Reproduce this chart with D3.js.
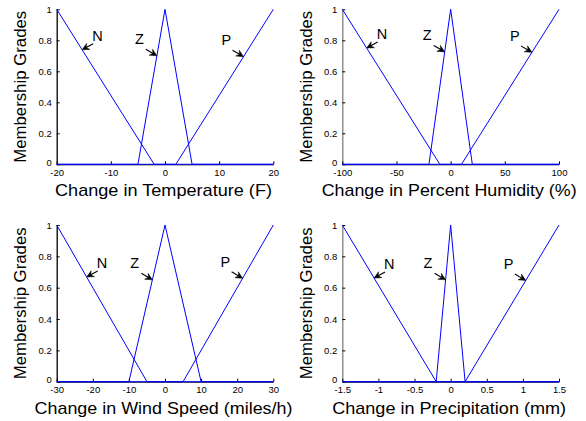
<!DOCTYPE html>
<html><head><meta charset="utf-8">
<script src="https://cdn.jsdelivr.net/npm/d3@7"></script>
<style>
body{margin:0;background:#fff}
svg{display:block}
text{font-family:"Liberation Sans",Arial,Helvetica,sans-serif}
</style>
</head><body><svg width="586" height="421"></svg>
<script>
// ---------- data ----------
const yTicks = [0, 0.2, 0.4, 0.6, 0.8, 1];
const mfNames = ["N", "Z", "P"];

const tempLabel = "Change in Temperature (F)";
const tempDomain = [-20, 20];
const tempTicks = [-20, -10, 0, 10, 20];
const tempN = [[-20, 1], [-2, 0], [20, 0]];
const tempZ = [[-20, 0], [-5, 0], [0, 1], [5, 0], [20, 0]];
const tempP = [[-20, 0], [2, 0], [20, 1]];
const tempTips = [-15.3, -1.5, 14.5];

const humLabel = "Change in Percent Humidity (%)";
const humDomain = [-100, 100];
const humTicks = [-100, -50, 0, 50, 100];
const humN = [[-100, 1], [-10, 0], [100, 0]];
const humZ = [[-100, 0], [-20, 0], [0, 1], [20, 0], [100, 0]];
const humP = [[-100, 0], [10, 0], [100, 1]];
const humTips = [-77.5, -5.5, 75];

const windLabel = "Change in Wind Speed (miles/h)";
const windDomain = [-30, 30];
const windTicks = [-30, -20, -10, 0, 10, 20, 30];
const windN = [[-30, 1], [-5, 0], [30, 0]];
const windZ = [[-30, 0], [-10, 0], [0, 1], [10, 0], [30, 0]];
const windP = [[-30, 0], [5, 0], [30, 1]];
const windTips = [-21.7, -3.5, 21.5];

const precLabel = "Change in Precipitation (mm)";
const precDomain = [-1.5, 1.5];
const precTicks = [-1.5, -1, -0.5, 0, 0.5, 1, 1.5];
const precN = [[-1.5, 1], [-0.2, 0], [1.5, 0]];
const precZ = [[-1.5, 0], [-0.2, 0], [0, 1], [0.2, 0], [1.5, 0]];
const precP = [[-1.5, 0], [0.2, 0], [1.5, 1]];
const precTips = [-1.06, -0.07, 1.04];

const yLabel = "Membership Grades";

// ---------- layout (positions/styles only) ----------
const layout = [
  {left: 56.7, right: 273.3, top: 9.3, bottom: 164.3, axisColor: "#000", labelW: 217},
  {left: 342.3, right: 559, top: 9.3, bottom: 164.3, axisColor: "#808080", labelW: 255},
  {left: 56.7, right: 273.3, top: 225, bottom: 381.7, axisColor: "#000", labelW: 258},
  {left: 342.3, right: 559, top: 225, bottom: 381.7, axisColor: "#808080", labelW: 234}
];
const panels = [
  {label: tempLabel, domain: tempDomain, ticks: tempTicks, mfs: [tempN, tempZ, tempP], tips: tempTips},
  {label: humLabel, domain: humDomain, ticks: humTicks, mfs: [humN, humZ, humP], tips: humTips},
  {label: windLabel, domain: windDomain, ticks: windTicks, mfs: [windN, windZ, windP], tips: windTips},
  {label: precLabel, domain: precDomain, ticks: precTicks, mfs: [precN, precZ, precP], tips: precTips}
];
// annotation offsets (pixels relative to arrow tip)
const annStyle = {
  N: {tail: [11, -6], text: [10, -9]},
  Z: {tail: [-11, -6.5], text: [-22, -11.5]},
  P: {tail: [-11, -6.5], text: [-22, -11.5]}
};

const svg = d3.select("svg");

function interp(pts, x) {
  for (let i = 0; i < pts.length - 1; i++) {
    const [x0, y0] = pts[i], [x1, y1] = pts[i + 1];
    if (x >= x0 && x <= x1) return x1 === x0 ? y0 : y0 + (y1 - y0) * (x - x0) / (x1 - x0);
  }
  return 0;
}

panels.forEach((p, i) => {
  const L = layout[i];
  const x = d3.scaleLinear().domain(p.domain).range([L.left, L.right]);
  const y = d3.scaleLinear().domain([0, 1]).range([L.bottom, L.top]);
  const g = svg.append("g");

  // y axis
  const ya = g.append("g").attr("transform", `translate(${L.left},0)`)
    .call(d3.axisLeft(y).tickValues(yTicks).tickFormat(d3.format("~g"))
      .tickSizeInner(-3).tickSizeOuter(0).tickPadding(5));
  ya.select(".domain").attr("stroke", L.axisColor).attr("stroke-width", 1.3);
  ya.selectAll(".tick line").attr("stroke", "#000");
  ya.selectAll(".tick text").attr("font-size", 9.5).attr("fill", "#000")
    .attr("font-family", "'Liberation Sans',Arial,sans-serif");
  ya.selectAll(".tick text").filter(d => d === 0).attr("dy", "0.1em");

  // x axis
  const xa = g.append("g").attr("transform", `translate(0,${L.bottom})`)
    .call(d3.axisBottom(x).tickValues(p.ticks).tickFormat(d3.format("~g"))
      .tickSizeInner(-3).tickSizeOuter(0).tickPadding(5));
  xa.select(".domain").attr("stroke", "#000");
  xa.selectAll(".tick line").attr("stroke", "#000");
  xa.selectAll(".tick text").attr("font-size", 9.5).attr("fill", "#000")
    .attr("font-family", "'Liberation Sans',Arial,sans-serif")
    .text(d => d3.format("~g")(d).replace("\u2212", "-"));

  // membership functions
  const line = d3.line().x(d => x(d[0])).y(d => y(d[1]));
  p.mfs.forEach(mf => {
    g.append("path").attr("d", line(mf)).attr("fill", "none")
      .attr("stroke", "#0000ff").attr("stroke-width", 1);
  });

  // annotations
  mfNames.forEach((name, k) => {
    const tx = x(p.tips[k]);
    const ty = y(interp(p.mfs[k], p.tips[k]));
    const s = annStyle[name];
    const bx = tx + s.tail[0], by = ty + s.tail[1];
    const ang = Math.atan2(ty - by, tx - bx);
    const hl = 7, hw = 3.4, notch = 4.6;
    const ca = Math.cos(ang), sa = Math.sin(ang);
    const pt = (a, b) => [tx - a * ca + b * sa, ty - a * sa - b * ca];
    const p1 = pt(hl, hw), p2 = pt(notch, 0), p3 = pt(hl, -hw);
    g.append("line").attr("x1", bx).attr("y1", by).attr("x2", p2[0]).attr("y2", p2[1])
      .attr("stroke", "#000").attr("stroke-width", 1.1);
    g.append("path").attr("d", `M${tx},${ty}L${p1[0]},${p1[1]}L${p2[0]},${p2[1]}L${p3[0]},${p3[1]}Z`)
      .attr("fill", "#000").attr("stroke", "#000").attr("stroke-width", 0.5);
    g.append("text").attr("x", tx + s.text[0]).attr("y", ty + s.text[1])
      .attr("font-size", 14.5).attr("fill", "#000").text(name);
  });

  // x label
  g.append("text").attr("x", (L.left + L.right) / 2 - 1.5).attr("y", L.bottom + 32)
    .attr("text-anchor", "middle").attr("font-size", 17)
    .attr("textLength", L.labelW).attr("lengthAdjust", "spacingAndGlyphs")
    .text(p.label);

  // y label
  const cy = (L.top + L.bottom) / 2;
  g.append("text").attr("transform", `translate(${L.left - 30.5},${cy}) rotate(-90)`)
    .attr("text-anchor", "middle").attr("font-size", 16.5)
    .attr("textLength", 152).attr("lengthAdjust", "spacingAndGlyphs")
    .text(yLabel);
});
</script>
</body></html>
